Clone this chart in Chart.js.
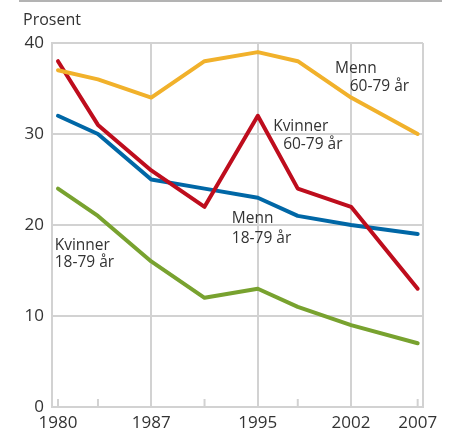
<!DOCTYPE html>
<html>
<head>
<meta charset="utf-8">
<script src="https://cdn.jsdelivr.net/npm/chart.js@4"></script>
<style>
  body { margin: 0; background: #fff; }
  #wrap { width: 453px; height: 435px; position: relative; }
</style>
</head>
<body>
<div id="wrap"><canvas id="chart-line--chart"></canvas></div>
<script>
const years = [1980, 1983, 1987, 1991, 1995, 1998, 2002, 2007];
const labelYears = [1980, 1987, 1995, 2002, 2007];
const gridYears = [1987, 1995, 2002];
const yTicks = [0, 10, 20, 30, 40];

const menn_60_79 = [37, 36, 34, 38, 39, 38, 34, 30];
const kvinner_60_79 = [38, 31, 26, 22, 32, 24, 22, 13];
const menn_18_79 = [32, 30, 25, 24, 23, 21, 20, 19];
const kvinner_18_79 = [24, 21, 16, 12, 13, 11, 9, 7];

// text labels placed in data units: [year, value, text]
const seriesLabels = [
    [2000.8, 36.7, 'Menn'],
    [2001.9, 34.7, '60-79 år'],
    [1996.15, 30.3, 'Kvinner'],
    [1996.9, 28.3, '60-79 år'],
    [1993.05, 20.2, 'Menn'],
    [1993.05, 18.0, '18-79 år'],
    [1979.75, 17.3, 'Kvinner'],
    [1979.75, 15.4, '18-79 år'],
];

const GRID = '#d2d2d2';
const TEXT = '#333333';
const FONT = '"Open Sans", "Noto Sans", sans-serif';

function pts(values) {
    return years.map((y, i) => ({ x: y, y: values[i] }));
}

const data_line = {
    datasets: [{
        label: 'Menn 60-79 år',
        borderColor: '#f1b12b',
        data: pts(menn_60_79),
    },
    {
        label: 'Kvinner 60-79 år',
        borderColor: '#be0d1d',
        data: pts(kvinner_60_79),
    },
    {
        label: 'Menn 18-79 år',
        borderColor: '#0067a6',
        data: pts(menn_18_79),
    },
    {
        label: 'Kvinner 18-79 år',
        borderColor: '#78a22f',
        data: pts(kvinner_18_79),
    }]
};

const extras = {
    id: 'extras',
    beforeDatasetsDraw(chart) {
        const { ctx, chartArea: a, scales: { x } } = chart;
        ctx.save();
        ctx.strokeStyle = GRID;
        ctx.lineWidth = 2;
        // right frame
        ctx.beginPath();
        ctx.moveTo(a.right, a.top);
        ctx.lineTo(a.right, a.bottom);
        ctx.stroke();
        // short inner tick marks
        years.filter(v => !gridYears.includes(v)).forEach(v => {
            const px = x.getPixelForValue(v);
            ctx.beginPath();
            ctx.moveTo(px, a.bottom - 8);
            ctx.lineTo(px, a.bottom);
            ctx.stroke();
        });
        ctx.restore();
    },
    afterDraw(chart) {
        const { ctx, scales: { x, y } } = chart;
        ctx.save();
        // top rule
        ctx.strokeStyle = '#9a9a9a';
        ctx.lineWidth = 1.5;
        ctx.beginPath();
        ctx.moveTo(19, 1);
        ctx.lineTo(442, 1);
        ctx.stroke();
        ctx.fillStyle = TEXT;
        ctx.textBaseline = 'alphabetic';
        ctx.textAlign = 'left';
        ctx.font = '16px ' + FONT;
        ctx.fillText('Prosent', 23, 25);
        ctx.font = '15.5px ' + FONT;
        seriesLabels.forEach(([vx, vy, t]) => {
            ctx.fillText(t, x.getPixelForValue(vx), y.getPixelForValue(vy));
        });
        ctx.restore();
    }
};

const config_line = {
    type: 'line',
    data: data_line,
    options: {
        responsive: true,
        maintainAspectRatio: false,
        animation: false,
        layout: { padding: { left: 0, top: 43, right: 30, bottom: 0 } },
        elements: {
            line: { borderWidth: 4, tension: 0, borderJoinStyle: 'round', borderCapStyle: 'round' },
            point: { radius: 0 }
        },
        plugins: {
            legend: { display: false },
            tooltip: { enabled: false },
            title: { display: false }
        },
        scales: {
            x: {
                type: 'linear',
                min: 1979.55,
                max: 2007.4,
                afterBuildTicks: scale => { scale.ticks = years.map(v => ({ value: v })); },
                afterFit: scale => { scale.height = 28; },
                ticks: {
                    autoSkip: false,
                    maxRotation: 0,
                    padding: 6,
                    color: TEXT,
                    font: { family: FONT, size: 17 },
                    callback: v => labelYears.includes(v) ? String(v) : ''
                },
                grid: {
                    drawTicks: false,
                    lineWidth: 2,
                    color: c => (c.tick && gridYears.includes(c.tick.value)) ? GRID : 'rgba(0,0,0,0)'
                },
                border: { display: true, color: GRID, width: 2 }
            },
            y: {
                min: 0,
                max: 40,
                afterBuildTicks: scale => { scale.ticks = yTicks.map(v => ({ value: v })); },
                afterFit: scale => { scale.width = 52; },
                ticks: {
                    padding: 8,
                    color: TEXT,
                    font: { family: FONT, size: 17 }
                },
                grid: { drawTicks: false, lineWidth: 2, color: GRID },
                border: { display: true, color: GRID, width: 2 }
            }
        }
    },
    plugins: [extras]
};

var chart_line = new Chart(
    document.getElementById('chart-line--chart'),
    config_line
);
</script>
</body>
</html>
